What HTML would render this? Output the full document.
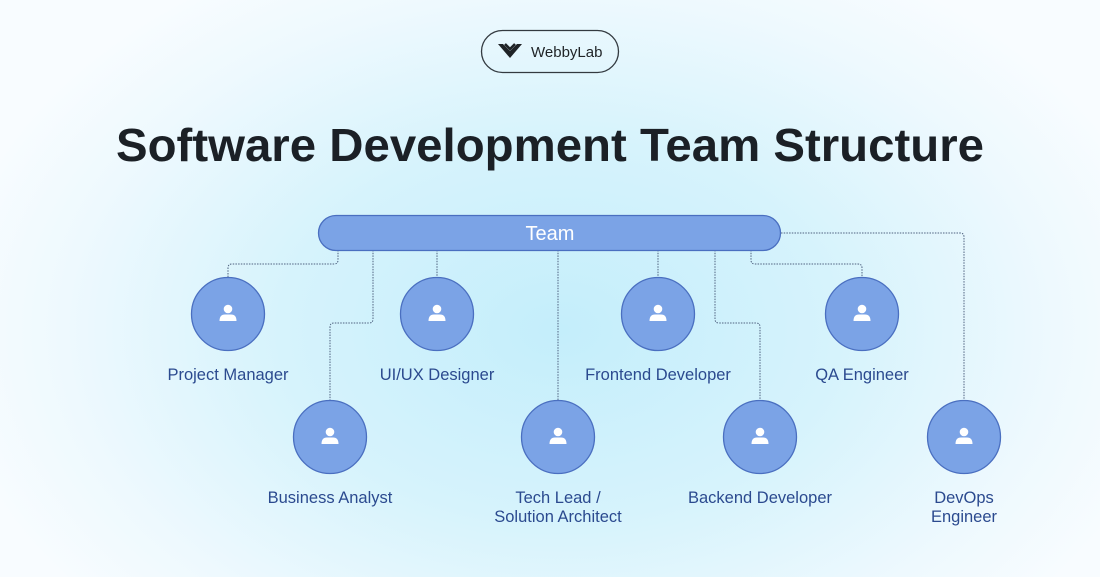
<!DOCTYPE html>
<html><head><meta charset="utf-8"><style>
html,body{margin:0;padding:0;}
body{width:1100px;height:577px;overflow:hidden;background:radial-gradient(ellipse 620px 420px at 560px 330px,#c4eefb 0%,#d6f3fc 45%,#eef9fe 80%,#f8fcff 100%);}
svg{display:block;font-family:"Liberation Sans",sans-serif;}
</style></head><body>
<svg width="1100" height="577" viewBox="0 0 1100 577">
<defs>
<g id="p"><circle r="36.5" fill="#7ba3e6" stroke="#4a6fc0" stroke-width="1.3"/><circle cx="0" cy="-5" r="4.3" fill="#fff"/><path d="M-8.5 7 Q-8.5 0.5 -3 0.5 L3 0.5 Q8.5 0.5 8.5 7 Z" fill="#fff"/></g>
</defs>
<rect x="481.5" y="30.5" width="137" height="42" rx="21" fill="none" stroke="#333a40" stroke-width="1.3"/>
<path d="M498 44 L503 44 L510 51 L517 44 L522 44 L510 58 Z" fill="#1f2326"/>
<path d="M505 44 L510 49 L515 44" fill="none" stroke="#1f2326" stroke-width="2.5"/>
<text x="531" y="57" font-size="15" fill="#1f2326">WebbyLab</text>
<text x="550" y="161" font-size="46" font-weight="bold" fill="#1b2026" text-anchor="middle" textLength="868" lengthAdjust="spacingAndGlyphs">Software Development Team Structure</text>
<g fill="none" stroke="#4f6280" stroke-width="1" stroke-dasharray="1.5 1.2">
<path d="M338 250 V260 Q338 264 334 264 H232 Q228 264 228 268 V278"/>
<path d="M373 250 V319 Q373 323 369 323 H334 Q330 323 330 327 V401"/>
<path d="M437 250 V278"/>
<path d="M558 250 V401"/>
<path d="M658 250 V278"/>
<path d="M715 250 V319 Q715 323 719 323 H756 Q760 323 760 327 V401"/>
<path d="M751 250 V260 Q751 264 755 264 H858 Q862 264 862 268 V278"/>
<path d="M781 233 H960 Q964 233 964 237 V401"/>
</g>
<rect x="318.5" y="215.5" width="462" height="35" rx="17.5" fill="#7ba3e6" stroke="#4a6fc0" stroke-width="1.3"/>
<text x="550" y="240" font-size="20" fill="#fff" text-anchor="middle">Team</text>
<use href="#p" x="228" y="314"/><use href="#p" x="437" y="314"/><use href="#p" x="658" y="314"/><use href="#p" x="862" y="314"/>
<use href="#p" x="330" y="437"/><use href="#p" x="558" y="437"/><use href="#p" x="760" y="437"/><use href="#p" x="964" y="437"/>
<g font-size="16.5" fill="#2b4a8f" text-anchor="middle">
<text x="228" y="380">Project Manager</text>
<text x="437" y="380">UI/UX Designer</text>
<text x="658" y="380">Frontend Developer</text>
<text x="862" y="380">QA Engineer</text>
<text x="330" y="503">Business Analyst</text>
<text x="558" y="503">Tech Lead /</text>
<text x="558" y="522">Solution Architect</text>
<text x="760" y="503">Backend Developer</text>
<text x="964" y="503">DevOps</text>
<text x="964" y="522">Engineer</text>
</g>
</svg>
</body></html>
